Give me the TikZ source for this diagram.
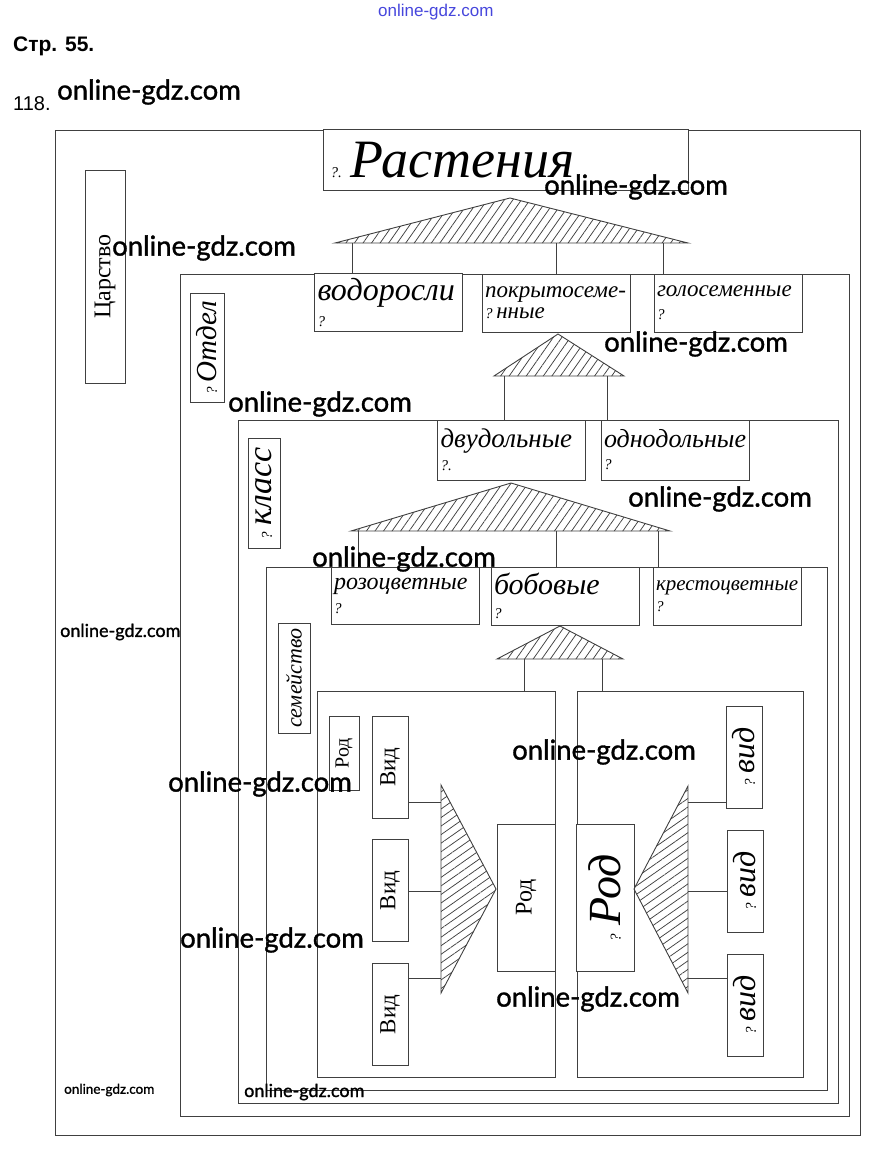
\documentclass[tikz,border=0pt]{standalone}
\usepackage{fontspec}
\usepackage{graphicx}
\setmainfont{Liberation Serif}
\newfontfamily\wmfont[FakeBold=1.2]{Lato}
\newfontfamily\hdfont{Liberation Sans}
\usetikzlibrary{patterns.meta}
\definecolor{wmblue}{RGB}{70,70,220}
\newcommand\qm[1][]{{\fontsize{15}{15}\selectfont\itshape ?#1}}
\newcommand\hwfont[1]{\fontsize{#1}{#1}\selectfont\itshape}
\tikzset{
  ln/.style={draw=black!75,line width=0.9pt},
  box/.style={ln,fill=white,inner sep=2pt,rectangle},
  lab/.style={box,minimum width=148pt,minimum height=58pt,text width=142pt,align=left,font=\hwfont{#1}},
  vid/.style={box,minimum width=36pt,minimum height=102pt,font=\fontsize{23}{23}\selectfont},
  vidq/.style={box,minimum width=36pt,minimum height=102pt,font=\hwfont{32}},
  hatch/.style={ln,pattern={Lines[angle=#1,distance=7pt,line width=0.75pt]},pattern color=black!75},
  wm/.style={anchor=west,inner sep=0pt,font=\wmfont\fontsize{#1}{#1}\selectfont},
}
\begin{document}
\begin{tikzpicture}[x=1pt,y=-1pt]
	\useasboundingbox (0,0) rectangle (877,1152);
	\node[anchor=west,inner sep=0pt,font=\hdfont\bfseries\fontsize{21}{21}\selectfont] (str) at (13,46) {Стр. 55.};
	\node[anchor=west,inner sep=0pt,font=\hdfont\fontsize{20}{20}\selectfont] (num) at (13,104) {118.};

	\draw[ln] (55,130) rectangle (860,1135);
	\draw[ln] (180,274) rectangle (849,1116);
	\draw[ln] (238,420) rectangle (838,1103);
	\draw[ln] (266,567) rectangle (827,1090);
	\node[ln,inner sep=0pt,minimum width=238pt,minimum height=386pt] (genL) at (436,884) {};
	\node[ln,inner sep=0pt,minimum width=226pt,minimum height=386pt] (genR) at (690,884) {};

	\node[box,minimum width=40pt,minimum height=213pt,font=\fontsize{24}{24}\selectfont] (tsar) at (105,276.5) {\rotatebox{90}{Царство}};
	\node[box,minimum width=34pt,minimum height=109pt,font=\hwfont{29}] (otd) at (207,347.5) {\rotatebox{90}{\qm\,Отдел}};
	\node[box,minimum width=32pt,minimum height=110pt,font=\hwfont{34}] (kls) at (264,493) {\rotatebox{90}{\qm\,класс}};
	\node[box,minimum width=32pt,minimum height=110pt,font=\hwfont{22}] (sem) at (294,678) {\rotatebox{90}{семейство}};

	\node[box,minimum width=365pt,minimum height=61pt,text width=350pt,align=left,font=\hwfont{54}] (rast) at (505.5,160) {\qm[.]\,Растения};

	\draw[hatch=55] (510,198) -- (335,243) -- (688,243) -- cycle;
	\foreach \x/\b in {352/vod,556/pok,663/gol}
		\coordinate (t1\b) at (\x,243);
	\node[lab=32] (vod) at (388.5,302) {водоросли\\[-6pt]\qm};
	\node[lab=23] (pok) at (556,303) {\mbox{покрытосеме-}\\[-2pt]\qm\,нные};
	\node[lab=23] (gol) at (728,303) {голосеменные\\\qm};
	\foreach \b in {vod,pok,gol}
		\draw[ln] (t1\b) -- (t1\b |- \b.north);

	\draw[hatch=55] (558,334) -- (494,376) -- (624,376) -- cycle;
	\node[lab=27,minimum height=60pt] (dvu) at (511.5,450) {двудольные\\[-4pt]\qm[.]};
	\node[lab=26,minimum height=60pt] (odn) at (675,450) {однодольные\\[-4pt]\qm};
	\foreach \x/\b in {504/dvu,607/odn}
		\draw[ln] (\x,376) -- (\x,376 |- \b.north);

	\draw[hatch=55] (511,483) -- (351,531) -- (670,531) -- cycle;
	\node[lab=24,minimum height=57pt] (roz) at (405,595.5) {розоцветные\\\qm};
	\node[lab=30] (bob) at (565,596) {бобовые\\[-6pt]\qm};
	\node[lab=21] (kre) at (727,596) {крестоцветные\\\qm};
	\foreach \x/\b in {358/roz,556/bob,658/kre}
		\draw[ln] (\x,531) -- (\x,531 |- \b.north);

	\draw[hatch=55] (560,626) -- (497,659) -- (623,659) -- cycle;
	\foreach \x/\b in {524/genL,602/genR}
		\draw[ln] (\x,659) -- (\x,659 |- \b.north);

	\node[box,minimum width=30pt,minimum height=74pt,font=\fontsize{20}{20}\selectfont] (rod0) at (344,753) {\rotatebox{90}{Род}};
	\node[vid] (vidA1) at (390,767) {\rotatebox{90}{Вид}};
	\node[vid] (vidA2) at (390,890.5) {\rotatebox{90}{Вид}};
	\node[vid] (vidA3) at (390,1014.5) {\rotatebox{90}{Вид}};
	\draw[hatch=35] (441,785) -- (496,889) -- (441,993) -- cycle;
	\foreach \y/\b in {802/vidA1,891/vidA2,978/vidA3}
		\draw[ln] (\b.east |- 441,\y) -- (441,\y);
	\node[box,minimum width=58pt,minimum height=147pt,font=\fontsize{24}{24}\selectfont] (rodL) at (526,897.5) {\rotatebox{90}{Род}};

	\node[box,minimum width=58pt,minimum height=147pt,font=\hwfont{46}] (rodR) at (605,897.5) {\rotatebox{90}{\qm\,Род}};
	\draw[hatch=35] (688,786) -- (634,889) -- (688,993) -- cycle;
	\node[vidq] (vidB1) at (744,757) {\rotatebox{90}{\qm\,вид}};
	\node[vidq] (vidB2) at (745,881) {\rotatebox{90}{\qm\,вид}};
	\node[vidq] (vidB3) at (745,1005) {\rotatebox{90}{\qm\,вид}};
	\foreach \y/\b in {802/vidB1,891/vidB2,978/vidB3}
		\draw[ln] (688,\y) -- (\b.west |- 688,\y);

	\node[anchor=west,inner sep=0pt,text=wmblue,font=\hdfont\fontsize{17}{17}\selectfont] (wtop) at (378,12) {online-gdz.com};
	\foreach \x/\y/\s [count=\i] in {57/92/27.5,544/187/27.5,112/248/27.5,604/344/27.5,228/404/27.5,628/499/27.5,312/559/27.5,60/632/18,512/752/27.5,168/784/27.5,180/940/27.5,496/999/27.5,64/1090/13.5,244/1092/18}
		\node[wm=\s] (w\i) at (\x,\y) {online-gdz.com};
\end{tikzpicture}
\end{document}
